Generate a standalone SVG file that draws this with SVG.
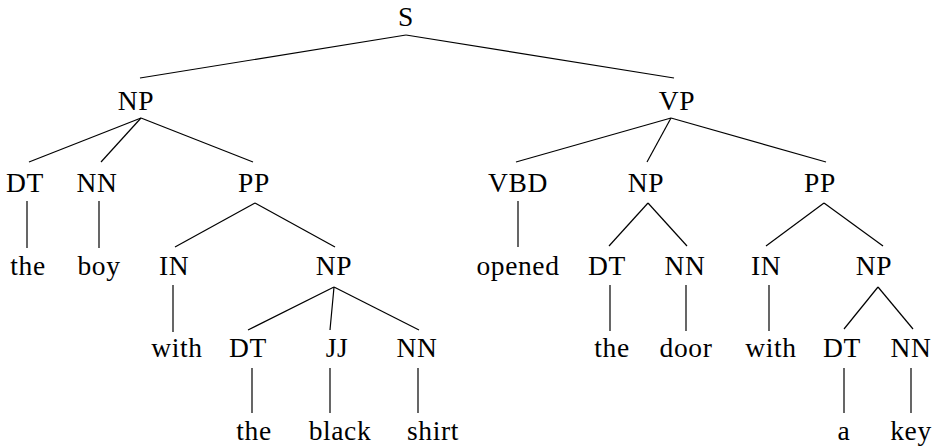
<svg xmlns="http://www.w3.org/2000/svg" width="937" height="446" viewBox="0 0 937 446">
  <style>
    text { font-family: "Liberation Serif", "DejaVu Serif", serif; font-size: 27.5px; letter-spacing: 0.6px; fill: #000; text-anchor: middle; }
    .edges line { stroke: #000; stroke-width: 1.2; fill: none; }
  </style>
  <rect width="937" height="446" fill="#fff"/>

  <!-- tree edges -->
  <g class="edges">
    <!-- S -->
    <line x1="406" y1="35" x2="140" y2="78"/>
    <line x1="406" y1="35" x2="674" y2="78"/>
    <!-- NP (subject) -->
    <line x1="141" y1="118" x2="29" y2="162"/>
    <line x1="141" y1="118" x2="101" y2="162"/>
    <line x1="141" y1="118" x2="253" y2="162"/>
    <line x1="27" y1="201" x2="27" y2="248"/>
    <line x1="99" y1="201" x2="99" y2="248"/>
    <!-- PP (with the black shirt) -->
    <line x1="255" y1="203" x2="175" y2="247"/>
    <line x1="255" y1="203" x2="335" y2="247"/>
    <line x1="173" y1="285" x2="173" y2="332"/>
    <line x1="334" y1="287" x2="248" y2="330"/>
    <line x1="334" y1="287" x2="330" y2="330"/>
    <line x1="334" y1="287" x2="419" y2="330"/>
    <line x1="252" y1="368" x2="252" y2="413"/>
    <line x1="330" y1="368" x2="330" y2="413"/>
    <line x1="418" y1="368" x2="418" y2="413"/>
    <!-- VP -->
    <line x1="671" y1="118" x2="516" y2="162"/>
    <line x1="671" y1="118" x2="647" y2="162"/>
    <line x1="671" y1="118" x2="826" y2="162"/>
    <line x1="518" y1="201" x2="518" y2="247"/>
    <!-- NP (the door) -->
    <line x1="648" y1="203" x2="609" y2="246"/>
    <line x1="648" y1="203" x2="687" y2="246"/>
    <line x1="610" y1="285" x2="610" y2="331"/>
    <line x1="686" y1="285" x2="686" y2="331"/>
    <!-- PP (with a key) -->
    <line x1="824" y1="203" x2="766" y2="246"/>
    <line x1="824" y1="203" x2="883" y2="246"/>
    <line x1="769" y1="285" x2="769" y2="331"/>
    <line x1="878" y1="287" x2="844" y2="329"/>
    <line x1="878" y1="287" x2="913" y2="329"/>
    <line x1="844" y1="368" x2="844" y2="413"/>
    <line x1="911" y1="368" x2="911" y2="413"/>
  </g>

  <!-- nodes -->
  <g id="n-S"><text x="406" y="26">S</text></g>
  <g id="n-NP1"><text x="136" y="110">NP</text></g>
  <g id="n-VP"><text x="677" y="110">VP</text></g>

  <g id="n-DT1"><text x="25" y="192">DT</text></g>
  <g id="n-NN1"><text x="97" y="192">NN</text></g>
  <g id="n-PP1"><text x="254" y="192">PP</text></g>
  <g id="n-VBD"><text x="518" y="192">VBD</text></g>
  <g id="n-NP3"><text x="646" y="192">NP</text></g>
  <g id="n-PP2"><text x="820" y="192">PP</text></g>

  <g id="w-the1"><text x="28" y="275">the</text></g>
  <g id="w-boy"><text x="99" y="275">boy</text></g>
  <g id="n-IN1"><text x="174" y="275">IN</text></g>
  <g id="n-NP2"><text x="334" y="275">NP</text></g>
  <g id="w-opened"><text x="518" y="275">opened</text></g>
  <g id="n-DT3"><text x="607" y="275">DT</text></g>
  <g id="n-NN3"><text x="685" y="275">NN</text></g>
  <g id="n-IN2"><text x="766" y="275">IN</text></g>
  <g id="n-NP4"><text x="874" y="275">NP</text></g>

  <g id="w-with1"><text x="177" y="357">with</text></g>
  <g id="n-DT2"><text x="248" y="357" letter-spacing="2.5">DT</text></g>
  <g id="n-JJ"><text x="337" y="357">JJ</text></g>
  <g id="n-NN2"><text x="417" y="357">NN</text></g>
  <g id="w-the3"><text x="612" y="357">the</text></g>
  <g id="w-door"><text x="686" y="357">door</text></g>
  <g id="w-with2"><text x="771" y="357">with</text></g>
  <g id="n-DT4"><text x="842" y="357" letter-spacing="2.5">DT</text></g>
  <g id="n-NN4"><text x="911" y="357">NN</text></g>

  <g id="w-the2"><text x="254" y="440">the</text></g>
  <g id="w-black"><text x="340" y="440">black</text></g>
  <g id="w-shirt"><text x="433" y="440">shirt</text></g>
  <g id="w-a"><text x="844" y="440">a</text></g>
  <g id="w-key"><text x="911" y="440">key</text></g>
</svg>
